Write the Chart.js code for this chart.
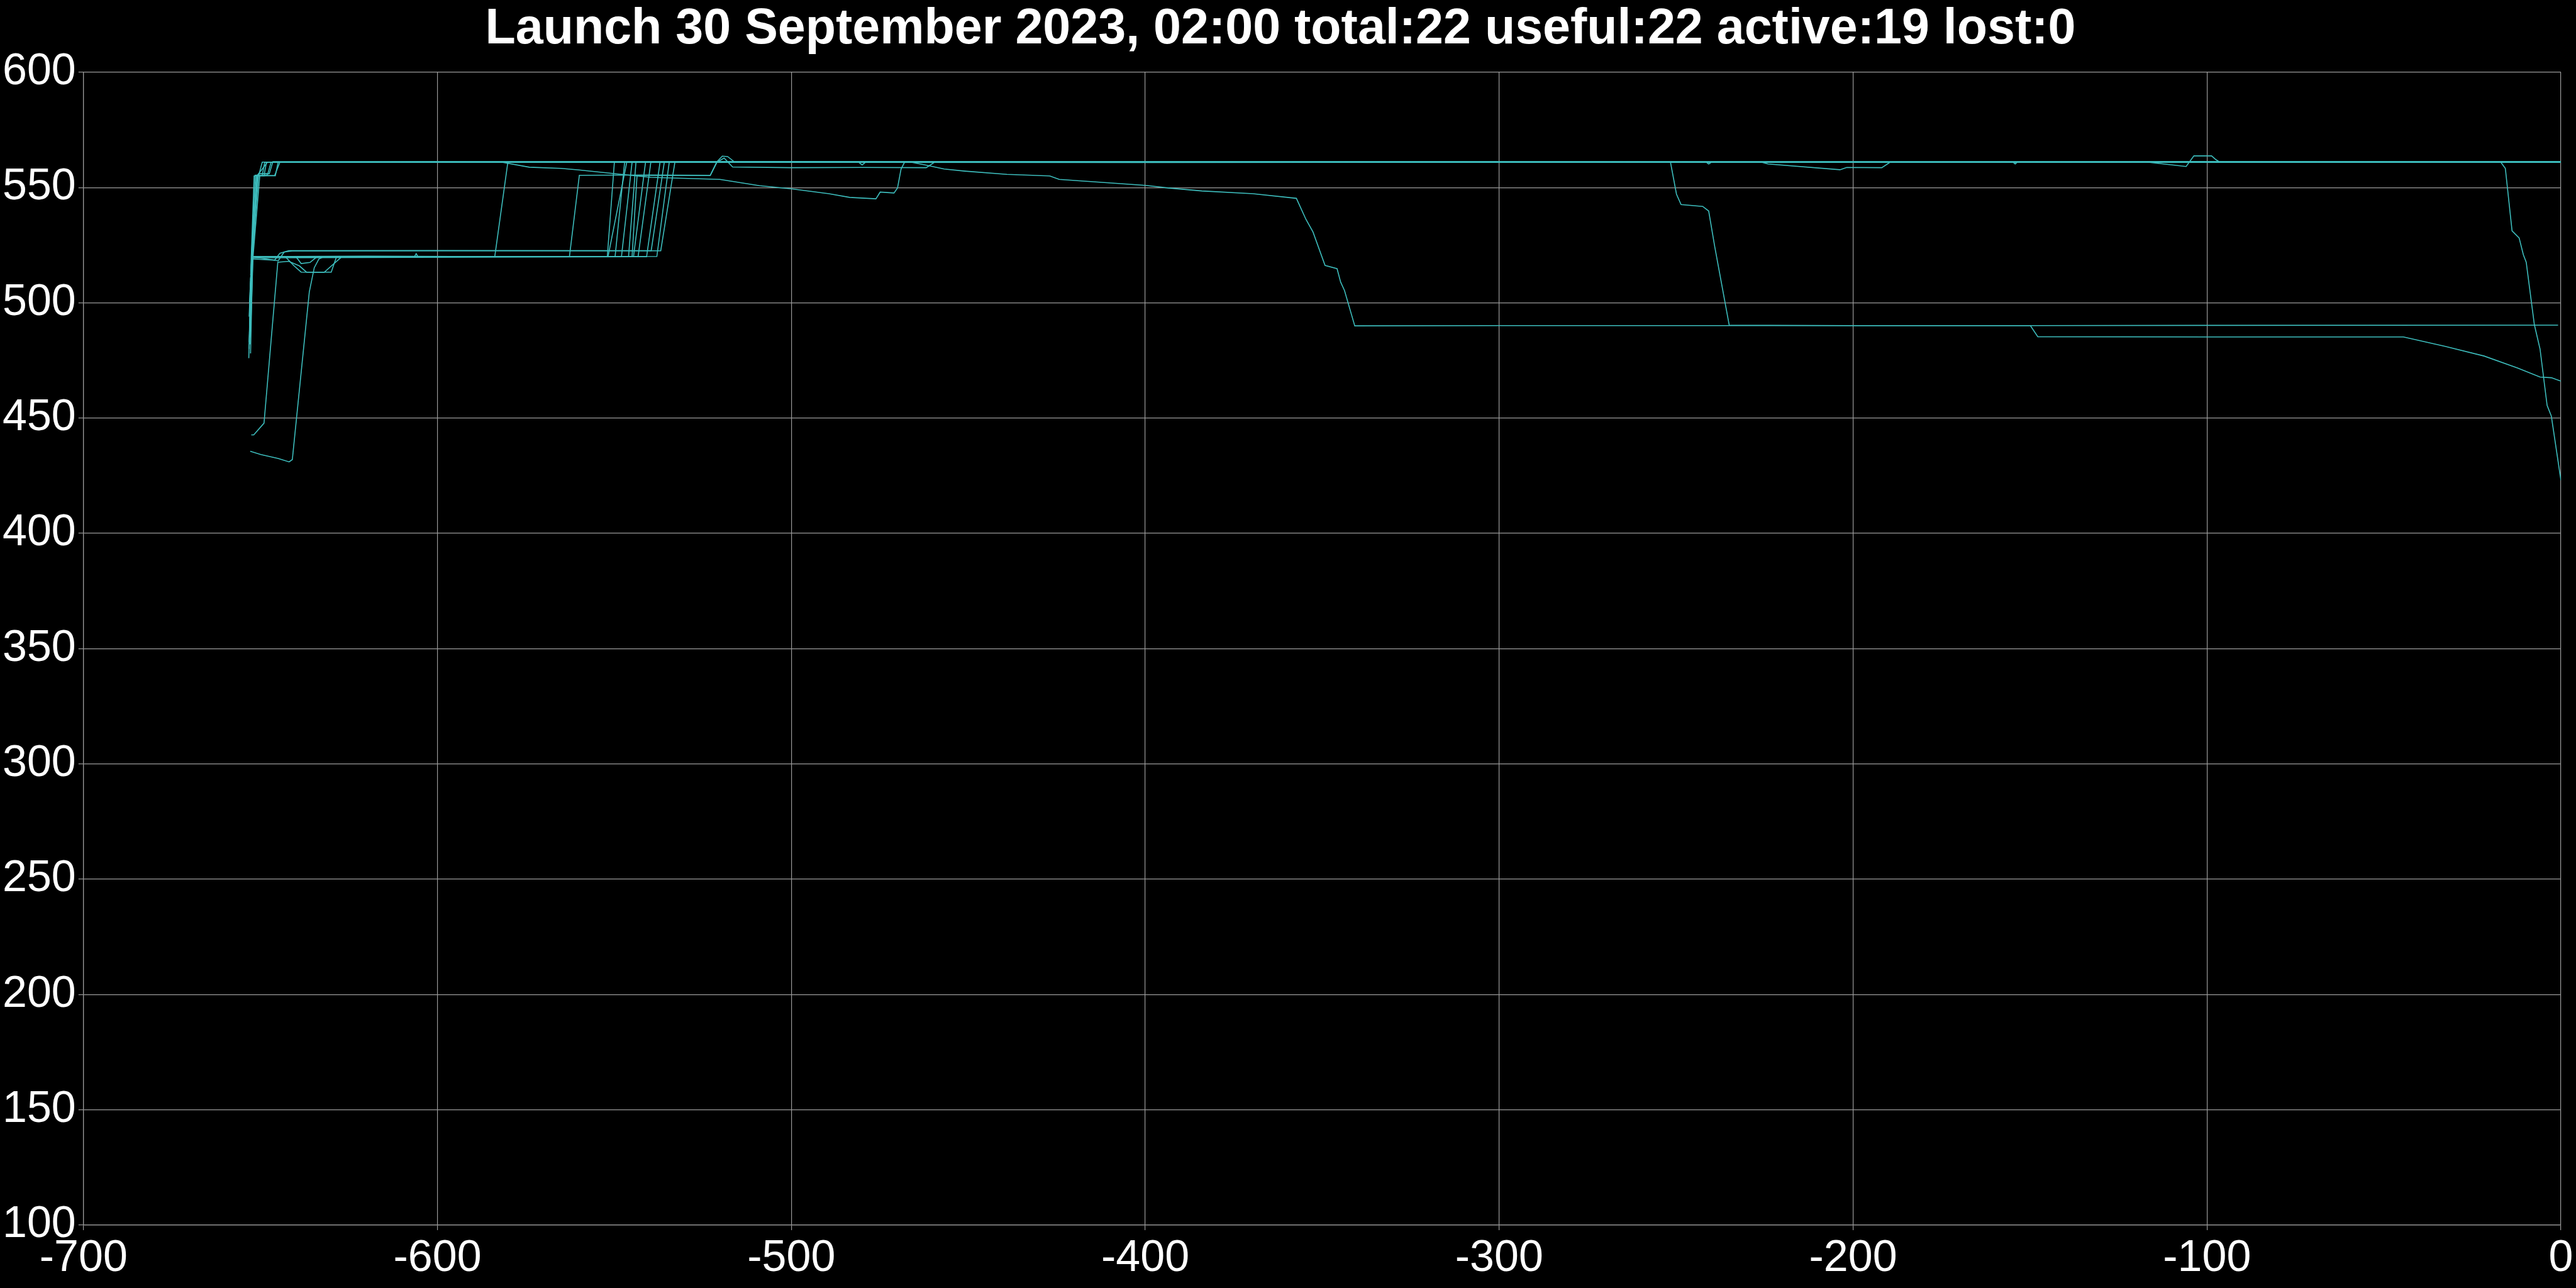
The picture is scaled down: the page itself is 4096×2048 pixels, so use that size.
<!DOCTYPE html>
<html>

<head>
    <title>Launch 30 September 2023</title>
    <script src="https://cdn.jsdelivr.net/npm/chart.js@4.4.0/dist/chart.umd.min.js"></script>
    <style>
        html, body { margin: 0; padding: 0; background: #000; }
        canvas { display: block; background: #000; }
    </style>
</head>

<body>
    <canvas id="altChart" width="4096" height="2048"></canvas>

    <script>
        // x = days relative to now, y = altitude in km, one list per satellite
        var sat01 = [[-653.3, 476], [-652.6, 520], [-651.8, 555], [-650.5, 555.2], [-649.5, 561], [-600, 561.2], [-481, 561], [-480, 559.8], [-479, 561], [-300, 561.1], [-100, 560.9], [0, 561]];
        var sat02 = [[-653.2, 480], [-652.5, 521], [-651.5, 555.3], [-649, 555.1], [-648.3, 561], [-500, 561.3], [-300, 561], [-226, 561], [-224, 560.2], [-203.7, 557.7], [-201.8, 558.7], [-191.9, 558.6], [-189.5, 561], [-100, 561.2], [0, 561]];
        var sat03 = [[-653.1, 487], [-652.4, 520], [-651.2, 555], [-648, 555.5], [-647, 561], [-400, 560.8], [-241.5, 561], [-240.8, 560.2], [-240, 561], [0, 561.2]];
        var sat04 = [[-653, 490], [-652.3, 521], [-650.5, 556], [-647.5, 556], [-646.5, 561.2], [-300, 561], [-154.8, 561], [-154.2, 560.2], [-153.6, 561], [0, 560.9]];
        var sat05 = [[-652.9, 507], [-652.2, 520], [-650.8, 555], [-646, 555.2], [-644.5, 561], [-400, 561.1], [-200, 561], [-17, 561], [-15.7, 558.3], [-13.8, 531.2], [-11.8, 528.1], [-10.6, 520.8], [-9.8, 517.6], [-7.5, 490.5], [-5.9, 480], [-3.9, 455.5], [-2.7, 450.8], [0, 423]];
        var sat06 = [[-653.2, 483], [-652.4, 520], [-620, 520.2], [-583.8, 520], [-580.1, 561], [-400, 561], [-251.6, 561], [-249.9, 547.1], [-248.6, 542.6], [-242.5, 541.8], [-240.8, 539.8], [-239.1, 524.4], [-235, 490.3], [-200, 490.1], [-150, 490.1], [-100, 490.2], [-0.8, 490.3]];
        var sat07 = [[-653, 485], [-652.3, 520], [-651, 555], [-648, 561], [-600, 561], [-582, 561], [-574, 558.8], [-565, 558.3], [-560, 557.6], [-545, 555.2], [-539.7, 554.4], [-520.2, 553.5], [-509, 550.8], [-500, 549.4], [-489.4, 547.3], [-483.5, 545.7], [-476.1, 545.1], [-474.9, 548], [-471, 547.6], [-470, 549.8], [-469, 558], [-468, 561], [-300, 561], [0, 561.1]];
        var sat08 = [[-653, 490], [-652.3, 520], [-606.5, 520], [-606, 521.3], [-605.5, 520], [-562.7, 520], [-559.9, 555.3], [-540, 555.4], [-522.9, 555.3], [-521.1, 561], [-519.5, 563.6], [-518, 563.4], [-516, 561], [-300, 561], [-117, 561], [-105.9, 559.1], [-103.7, 563.7], [-98.7, 563.7], [-97.5, 562.1], [-96.4, 561], [0, 561]];
        var sat09 = [[-653.1, 495], [-652.4, 520], [-545, 520], [-543.6, 555.2], [-522.9, 555.2], [-521, 561], [-519, 562.8], [-516.6, 558.9], [-500, 558.6], [-480, 558.7], [-461.9, 558.6], [-459.5, 561], [0, 561]];
        var sat10 = [[-653, 500], [-652.3, 520], [-551.8, 520], [-546.5, 561], [-466.3, 561], [-462.2, 559.8], [-456.8, 558], [-450.9, 557.1], [-439.1, 555.7], [-427, 555], [-424.3, 553.5], [-400, 550.9], [-393.5, 549.8], [-384, 548.5], [-369.6, 547.3], [-357.3, 545.3], [-354.6, 536.2], [-352.6, 530.7], [-349.2, 516.2], [-345.8, 514.8], [-344.8, 509], [-343.7, 505.3], [-340.8, 490], [-300, 490.1], [-149.9, 490.1], [-147.8, 485.3], [-100, 485.2], [-44.5, 485.2], [-32.7, 481.1], [-21.7, 476.9], [-12.2, 471.7], [-5.9, 467.8], [-2.7, 467.5], [0, 466]];
        var sat11 = [[-652.8, 478], [-652.2, 520], [-549.8, 520], [-547.1, 561], [-300, 561.2], [0, 561]];
        var sat12 = [[-652.9, 482], [-652.3, 519.5], [-544.6, 520], [-541.2, 561], [0, 561]];
        var sat13 = [[-653, 488], [-652.2, 520], [-543.3, 520], [-539.7, 561], [0, 560.9]];
        var sat14 = [[-652.7, 492], [-652.1, 520], [-540.9, 520], [-537.1, 561], [0, 561.1]];
        var sat15 = [[-653.1, 500], [-652.5, 519], [-646, 518.5], [-644.5, 521.5], [-642, 522.6], [-600, 522.7], [-539.6, 522.6], [-535.9, 561], [0, 561]];
        var sat16 = [[-652.9, 504], [-652.3, 520], [-645, 518.2], [-643.3, 522], [-641, 522.5], [-536.9, 522.6], [-532.9, 561], [0, 561]];
        var sat17 = [[-652.6, 442.7], [-651.9, 442.7], [-649, 447.8], [-645.1, 517.6], [-642, 518], [-639, 516], [-637, 513.3], [-630, 513.3], [-628.5, 520], [-600, 520], [-552, 520], [-550, 561], [0, 561]];
        var sat18 = [[-652.9, 435.6], [-649.9, 434.2], [-645, 432.5], [-641.9, 431], [-641, 432], [-636.2, 504.7], [-634.8, 515.2], [-633.5, 519], [-632, 520], [-548, 520], [-545, 561], [0, 561]];
        var sat19 = [[-653, 498], [-652.4, 520], [-643, 520], [-640.5, 516], [-638.5, 513.3], [-632, 513.2], [-627, 520], [-600, 520], [-546, 520], [-543.9, 561], [0, 561]];
        var sat20 = [[-652.8, 510], [-652.3, 520], [-640, 520], [-638.5, 517], [-636, 517.5], [-634, 520], [-538, 520.1], [-534.5, 561], [0, 561]];
        var sat21 = [[-653.2, 494], [-652.5, 520.5], [-651, 555.4], [-649.5, 555.3], [-648.8, 561], [-300, 560.9], [0, 561]];
        var sat22 = [[-652.8, 512], [-652.1, 520], [-650.2, 555.1], [-645.8, 555.1], [-645, 561], [0, 561.2]];

        var tracks = [sat01, sat02, sat03, sat04, sat05, sat06, sat07, sat08, sat09, sat10, sat11,
            sat12, sat13, sat14, sat15, sat16, sat17, sat18, sat19, sat20, sat21, sat22];

        var xTicks = [-700, -600, -500, -400, -300, -200, -100, 0];
        var yTicks = [100, 150, 200, 250, 300, 350, 400, 450, 500, 550, 600];

        var titleText = 'Launch 30 September 2023, 02:00 total:22 useful:22 active:19 lost:0';

        var lineColor = '#3dbdbd';
        var gridColor = '#9a9a9a';

        var datasets = tracks.map(function (t, i) {
            return {
                label: 'sat' + (i + 1),
                data: t.map(function (p) { return { x: p[0], y: p[1] }; }),
                borderColor: lineColor,
                borderWidth: 1.6,
                pointRadius: 0,
                showLine: true,
                fill: false,
                tension: 0
            };
        });

        var tickFont = { family: 'Liberation Sans', size: 70 };

        var ctx = document.getElementById('altChart').getContext('2d');
        var chart = new Chart(ctx, {
            type: 'scatter',
            data: { datasets: datasets },
            options: {
                responsive: false,
                devicePixelRatio: 1,
                animation: false,
                layout: { padding: { top: 0, right: 24, bottom: 0, left: 0 } },
                plugins: {
                    legend: { display: false },
                    tooltip: { enabled: false },
                    title: {
                        display: true,
                        text: titleText,
                        color: '#ffffff',
                        font: { family: 'Liberation Sans', size: 79, weight: 'bold' },
                        padding: { top: 0, bottom: 20 }
                    }
                },
                scales: {
                    x: {
                        type: 'linear',
                        min: xTicks[0],
                        max: xTicks[xTicks.length - 1],
                        afterBuildTicks: function (axis) {
                            axis.ticks = xTicks.map(function (v) { return { value: v }; });
                        },
                        ticks: { color: '#ffffff', font: tickFont, padding: 4, maxRotation: 0 },
                        grid: { color: gridColor, lineWidth: 1.2, tickLength: 8 },
                        border: { color: gridColor, width: 1.2 }
                    },
                    y: {
                        type: 'linear',
                        min: yTicks[0],
                        max: yTicks[yTicks.length - 1],
                        afterBuildTicks: function (axis) {
                            axis.ticks = yTicks.map(function (v) { return { value: v }; });
                        },
                        ticks: { color: '#ffffff', font: tickFont, padding: 4 },
                        grid: { color: gridColor, lineWidth: 1.2, tickLength: 8 },
                        border: { color: gridColor, width: 1.2 }
                    }
                }
            }
        });
    </script>
</body>

</html>
